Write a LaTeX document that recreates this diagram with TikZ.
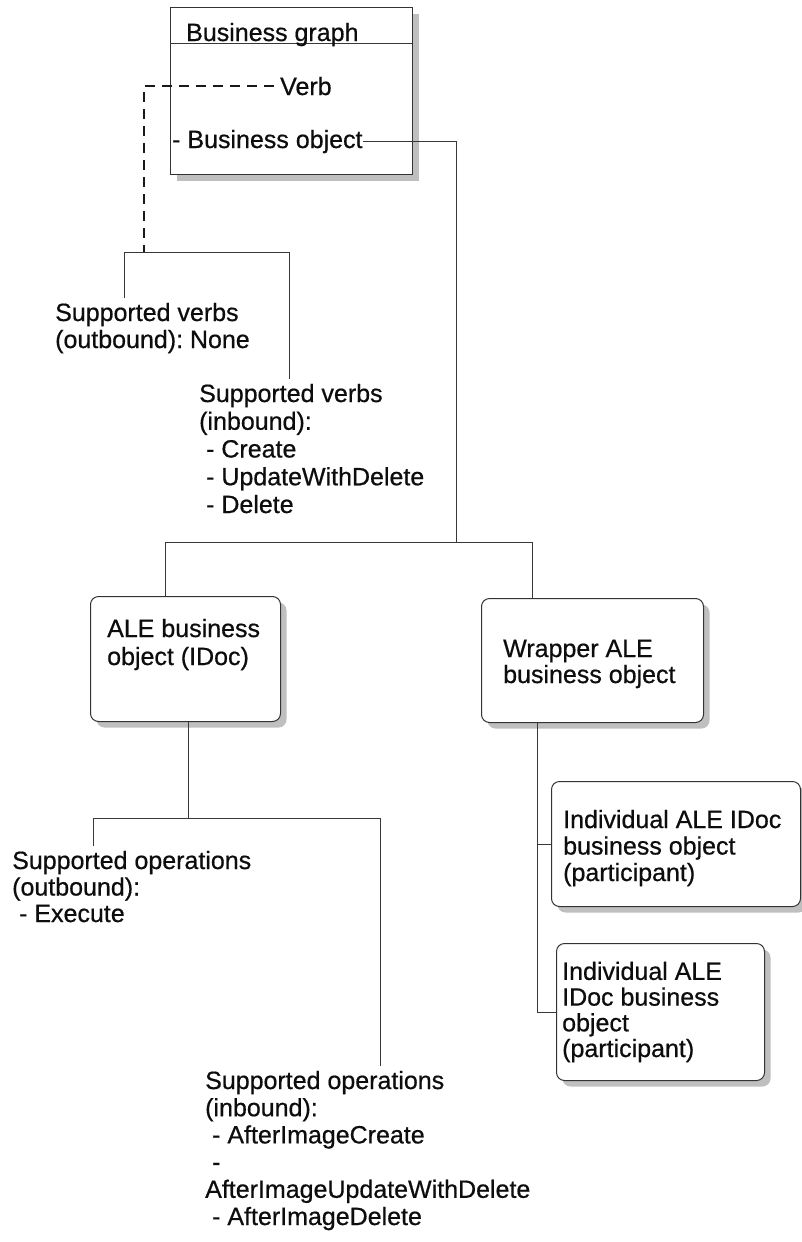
\documentclass[tikz,border=0pt]{standalone}
\usepackage{fontspec}
\setmainfont{Liberation Sans}[UprightFeatures={FakeBold=0.6}]
\usetikzlibrary{shadows}
\frenchspacing
\begin{document}
\begin{tikzpicture}[x=1pt,y=-1pt,
  % multi-line labels are placed by the baseline of their last line
  txt/.style={anchor=base west, align=left, inner xsep=0pt, inner ysep=5pt,
    font=\fontsize{25}{27.5}\selectfont, text=black!95},
  conn/.style={draw=black!78, line width=1pt},
  verbdash/.style={draw=black!90, line width=2.2pt, dash pattern=on 10pt off 7pt},
  card/.style={draw=black!80, line width=1pt, fill=white, rounded corners=8pt,
    anchor=north west, inner sep=0pt,
    drop shadow={shadow xshift=6pt, shadow yshift=-6pt, fill=black!25, opacity=1}},
  ]
\useasboundingbox (0,0) rectangle (801,1242);

% ---------- boxes ----------
\node[card, rounded corners=0pt, minimum width=242pt, minimum height=167pt] (bg) at (170,7) {};
\coordinate (sepy) at (0,43);
\draw[conn] (bg.west |- sepy) -- (bg.east |- sepy);

\node[card, minimum width=190pt, minimum height=125pt] (ale)  at (90,596)  {};
\node[card, minimum width=222pt, minimum height=124pt] (wrap) at (481,598) {};
\node[card, minimum width=249pt, minimum height=125pt] (ind1) at (551,781) {};
\node[card, minimum width=208pt, minimum height=137pt] (ind2) at (556,943) {};

% ---------- texts ----------
\node[txt] (bgt)  at (186,41)  {Business graph};
\node[txt] (verb) at (280,95)  {Verb};
\node[txt] (bo)   at (172,148) {- Business object};

\node[txt, font=\fontsize{25}{27}\selectfont] (vout) at (55,348)
  {Supported verbs\\(outbound): None};
\node[txt, font=\fontsize{25}{27.75}\selectfont] (vin) at (199,513)
  {Supported verbs\\(inbound):\\\ - Create\\\ - UpdateWithDelete\\\ - Delete};

\node[txt, font=\fontsize{25}{28}\selectfont] (alet) at (107,665) {ALE business\\object (IDoc)};
\node[txt, font=\fontsize{25}{26}\selectfont] (wrapt) at (503,683) {Wrapper ALE\\business object};
\node[txt, font=\fontsize{25}{26.5}\selectfont] (ind1t) at (563,881)
  {Individual ALE IDoc\\business object\\(participant)};
\node[txt, font=\fontsize{25}{25.7}\selectfont] (ind2t) at (562,1057)
  {Individual ALE\\IDoc business\\object\\(participant)};

\node[txt, font=\fontsize{25}{26.5}\selectfont] (oout) at (12,922)
  {Supported operations\\(outbound):\\\ - Execute};
\node[txt, font=\fontsize{25}{27.2}\selectfont] (oin) at (205,1225)
  {Supported operations\\(inbound):\\\ - AfterImageCreate\\\ -\\AfterImageUpdateWithDelete\\\ - AfterImageDelete};

% ---------- connectors ----------
% verb link (dashed) and its verb lists
\coordinate (vbusL) at (124,252);
\coordinate (vbusR) at (289,252);
\coordinate (vj)    at (144,252);
\draw[conn] (vout.north -| vbusL) -- (vbusL) -- (vbusR) -- (vin.north -| vbusR);
\draw[verbdash] ([xshift=-6pt]verb.west) -| (vj);

% business object link
\coordinate (bj)   at (456,542);
\coordinate (busL) at (165,542);
\coordinate (busR) at (532,542);
\draw[conn] (bo.east) -| (bj);
\draw[conn] (ale.north -| busL) -- (busL) -- (busR) -- (wrap.north -| busR);

% operations of the ALE business object
\coordinate (aleDrop) at (188,818);
\coordinate (obusL)   at (93,818);
\coordinate (obusR)   at (380,818);
\draw[conn] (ale.south -| aleDrop) -- (aleDrop);
\draw[conn] (oout.north -| obusL) -- (obusL) -- (obusR) -- (oin.north -| obusR);

% participants of the wrapper
\coordinate (wtrunk) at (537,0);
\draw[conn] (wrap.south -| wtrunk) |- (ind2.west);
\draw[conn] (ind1.west -| wtrunk) -- (ind1.west);
\end{tikzpicture}
\end{document}
